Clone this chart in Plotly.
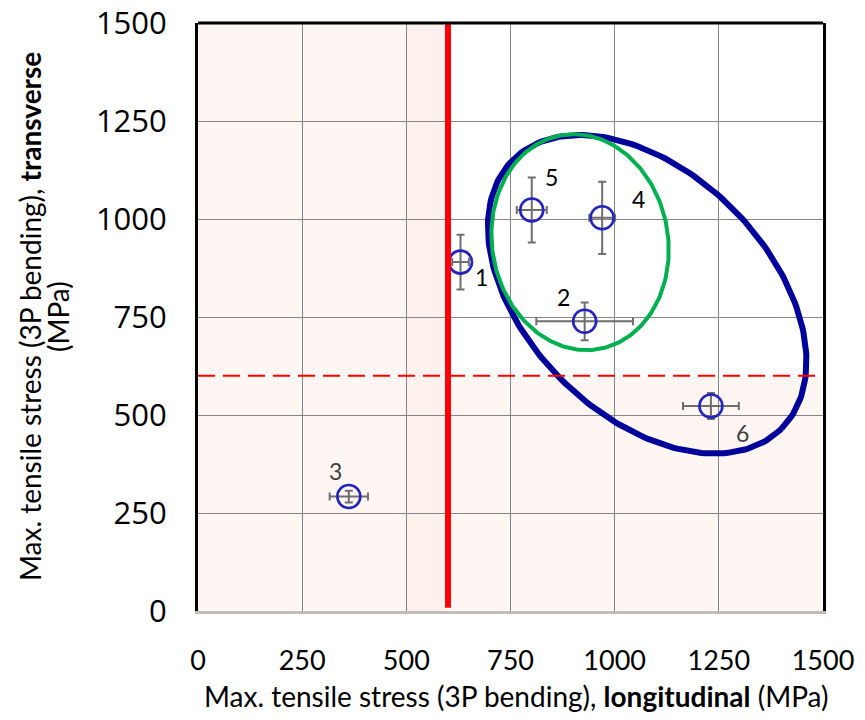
import numpy as np
import plotly.graph_objects as go

# ---- data ----
sample_ids = ["1", "2", "3", "4", "5", "6"]
longitudinal = [630, 928, 362, 970, 801, 1231]      # x, MPa
transverse = [890, 739, 292, 1003, 1023, 523]        # y, MPa
long_err = [20, 116, 46, 31, 36, 67]
trans_err = [70, 48, 15, 92, 83, 33]
tick_vals = [0, 250, 500, 750, 1000, 1250, 1500]
tick_text = ["0", "250", "500", "750", "1000", "1250", "1500"]
threshold_long = 600
threshold_trans = 600

# label styling (offsets in px relative to point)
label_dx = [21, -21, -13, 36, 20, 32]
label_dy = [-15, 24, 26, 19, 33, -27]
label_col = ["#000000", "#000000", "#404040", "#000000", "#000000", "#404040"]

# plot geometry (body margin removed by post_script)
W, H = 865, 720
PL, PT, PW, PH = 198, 23, 625, 588          # plot box in screen px
ML, MT = PL, PT
MR, MB = W - ML - PW, H - MT - PH
XR, YR = 1500, 1500
sx, sy = XR / PW, YR / PH   # data units per px


def px_paper(xs, ys):
    return (xs - PL) / PW, (PT + PH - ys) / PH


def ellipse(cx, cy, a_px, b_px, ang_deg, n=240):
    t = np.linspace(0, 2 * np.pi, n)
    th = np.deg2rad(ang_deg)
    u, v = a_px * np.cos(t), b_px * np.sin(t)
    dx = u * np.cos(th) - v * np.sin(th)
    dy = u * np.sin(th) + v * np.cos(th)
    return cx + dx * sx, cy + dy * sy


fig = go.Figure()

# ellipses (group outlines)
bx, by = ellipse(1078, 808, 190, 121, -45)
fig.add_trace(go.Scatter(x=bx, y=by, mode="lines", line=dict(color="#00009a", width=6),
                         hoverinfo="skip", showlegend=False))
gx, gy = ellipse(917, 941, 108.5, 88, 100)
fig.add_trace(go.Scatter(x=gx, y=gy, mode="lines", line=dict(color="#00b050", width=4),
                         hoverinfo="skip", showlegend=False))

fig.add_trace(go.Scatter(
    x=longitudinal, y=transverse, mode="markers",
    marker=dict(symbol="circle-open", size=23, color="#2323bd", line=dict(width=2.6, color="#2323bd")),
    error_x=dict(type="data", array=long_err, color="#6e6e6e", thickness=2, width=4),
    error_y=dict(type="data", array=trans_err, color="#6e6e6e", thickness=2, width=4),
    showlegend=False, hoverinfo="skip"))

shapes = [
    dict(type="rect", xref="x", yref="y", x0=0, x1=threshold_long, y0=0, y1=YR,
         fillcolor="#fdf6f2", line=dict(width=0), layer="below"),
    dict(type="rect", xref="x", yref="y", x0=threshold_long, x1=XR, y0=0, y1=threshold_trans,
         fillcolor="#fdf6f2", line=dict(width=0), layer="below"),
    dict(type="rect", xref="x", yref="y", x0=500, x1=threshold_long, y0=0, y1=YR,
         fillcolor="#fcf1ec", line=dict(width=0), layer="below"),
    dict(type="line", xref="x", yref="y", x0=threshold_long, x1=threshold_long, y0=8, y1=YR,
         line=dict(color="#ff0000", width=6)),
    dict(type="line", xref="x", yref="y", x0=0, x1=XR, y0=threshold_trans, y1=threshold_trans,
         line=dict(color="#ff0000", width=2, dash="17px,8px")),
    dict(type="line", xref="paper", yref="paper", x0=0, x1=1, y0=1, y1=1,
         line=dict(color="#000000", width=3)),
]

annotations = []
for i, s in enumerate(sample_ids):
    annotations.append(dict(x=longitudinal[i], y=transverse[i], xref="x", yref="y", text=s,
                            showarrow=False, xshift=label_dx[i], yshift=label_dy[i],
                            font=dict(family="Lato", size=23, color=label_col[i])))

tx, ty = px_paper(516, 696)
annotations.append(dict(
    x=tx, y=ty, xref="paper", yref="paper",
    text="Max. tensile stress (3P bending), <b>longitudinal</b> (MPa)", showarrow=False,
    xanchor="center", yanchor="middle", font=dict(family="Lato", size=28, color="#000000")))
y1x, y1y = px_paper(30, 317)
annotations.append(dict(
    x=y1x, y=y1y, xref="paper", yref="paper", textangle=-90,
    text="Max. tensile stress (3P bending), <b>transverse</b>", showarrow=False,
    xanchor="center", yanchor="middle", font=dict(family="Lato", size=28, color="#000000")))
y2x, y2y = px_paper(58, 317)
annotations.append(dict(
    x=y2x, y=y2y, xref="paper", yref="paper", textangle=-90,
    text="(MPa)", showarrow=False,
    xanchor="center", yanchor="middle", font=dict(family="Lato", size=28, color="#000000")))

fig.update_layout(
    width=W, height=H, margin=dict(l=ML, r=MR, t=MT, b=MB, autoexpand=False),
    paper_bgcolor="white", plot_bgcolor="white",
    shapes=shapes, annotations=annotations, showlegend=False,
    xaxis=dict(range=[0, XR], tickvals=tick_vals, ticktext=tick_text, showgrid=True,
               gridcolor="#858585", gridwidth=1, zeroline=False, showline=True,
               linecolor="#bdbdbd", linewidth=3, mirror=False, ticks="",
               ticklabeloverflow="allow",
               ticklabelstandoff=24, tickfont=dict(family="Lato", size=27, color="#000000")),
    yaxis=dict(range=[0, YR], tickvals=tick_vals, ticktext=tick_text, showgrid=True,
               gridcolor="#858585", gridwidth=1, zeroline=False, showline=True,
               linecolor="#000000", linewidth=3, mirror=True, ticks="",
               ticklabeloverflow="allow",
               ticklabelstandoff=22, tickfont=dict(family="Open Sans", size=31, color="#000000")),
)

fig.write_html("out.html", config={"displayModeBar": False},
               post_script="document.body.style.margin='0';document.body.style.overflow='hidden';")
